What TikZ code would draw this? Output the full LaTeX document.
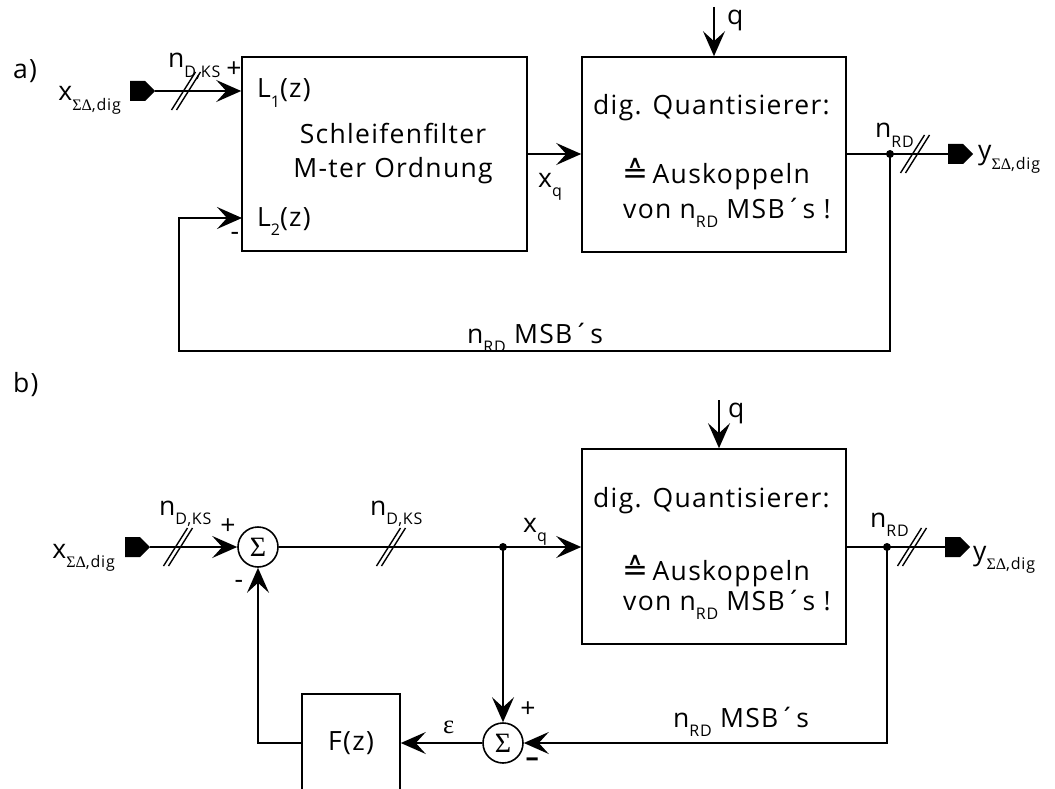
\documentclass[tikz,border=0pt]{standalone}
\usepackage{fontspec}
\setmainfont{Open Sans}[LetterSpace=5]
\newfontfamily\dvs{DejaVu Sans}
\newfontfamily\grk{Liberation Serif}
\usetikzlibrary{arrows.meta,shapes.symbols}
\newcommand\lo[1]{\raisebox{-0.36em}{\fontsize{16}{16}\selectfont #1}}
\newcommand\sd{{\grk ΣΔ}}
\newcommand\corr{{\fontsize{31}{31}\selectfont\dvs ≙}}
\tikzset{
  ln/.style={line width=1.6pt},
  blk/.style={draw, line width=1.6pt, rectangle, inner sep=0pt},
  sumn/.style={draw, circle, line width=1.6pt, minimum size=40pt, inner sep=0pt, font=\fontsize{28}{28}\selectfont\grk},
  lbl/.style={inner sep=0pt, font=\fontsize{26.5}{30}\selectfont},
  port/.style={shape=signal, signal to=east, fill=black, draw=none, minimum width=25pt, minimum height=20pt, inner sep=0pt},
  jdot/.style={circle, fill=black, minimum size=8pt, inner sep=0pt},
  arr/.style={line width=1.6pt, -{Stealth[length=25pt,width=22pt,inset=10pt]}},
  bus/.pic={\draw[line width=1.4pt] (-14.5,19) -- (9.5,-19) (-9.5,19) -- (14.5,-19);}
}
\begin{document}
\begin{tikzpicture}[x=1pt,y=-1pt]
\useasboundingbox (0,0) rectangle (1055,789);
% ---------------- a) ----------------
\node[lbl, anchor=base west] (la) at (13,79) {a)};
\node[port] (pinA) at (137.5,91) {};
\node[lbl, anchor=base east] (xinA) at (121,101) {x\lo{\sd,dig}};
\node[lbl, anchor=base west] (nA) at (168,68) {n\lo{D,KS}};
\node[lbl] (plA) at (234,70) {+};
\node[blk, minimum width=285pt, minimum height=194pt] (Lbox) at (384.5,154) {};
\node[lbl, anchor=base west] (L1) at (257,98) {L\lo{1}(z)};
\node[lbl, anchor=base west] (L2) at (257,226) {L\lo{2}(z)};
\node[lbl, anchor=base] (sf) at (393,143) {Schleifenfilter};
\node[lbl, anchor=base] (mo) at (393,178) {M-ter Ordnung};
\node[lbl, anchor=base west] (xqA) at (538,187) {x\lo{q}};
\node[blk, minimum width=264pt, minimum height=195pt] (Qa) at (714,154.5) {};
\coordinate (qa) at (714,7);
\node[lbl, anchor=base west] (qlA) at (727,25) {q};
\node[lbl, anchor=base west] (dqA) at (593,115) {dig. Quantisierer:};
\node[lbl, anchor=base west] (akA) at (622,183) {\corr\,Auskoppeln};
\node[lbl, anchor=base west] (vnA) at (623,218) {von n\lo{RD} MSB´s !};
\node[jdot] (dA) at (890,154) {};
\node[lbl, anchor=base west] (nrA) at (875,138) {n\lo{RD}};
\node[port] (poA) at (955.5,154) {};
\node[lbl, anchor=base west] (yA) at (978,160) {y\lo{\sd,dig}};
\coordinate (fa1) at (890,351);
\coordinate (fa2) at (179,351);
\coordinate (L2in) at (242,218);
\node[lbl, anchor=base west] (fbA) at (467,343) {n\lo{RD} MSB´s};
\node[lbl] (miA) at (235,236) {-};
\draw[arr] (pinA.east) -- (pinA.east -| Lbox.west);
\pic at (186,91) {bus};
\draw[arr] (Lbox.east) -- (Lbox.east -| Qa.west);
\draw[arr] (qa) -- (qa |- Qa.north);
\draw[ln] (Qa.east |- dA) -- (poA.west);
\pic at (915,154) {bus};
\draw[arr] (dA.center) -- (fa1) -- (fa2) |- (L2in);
% ---------------- b) ----------------
\node[lbl, anchor=base west] (lb) at (13,392) {b)};
\node[port] (pinB) at (132.5,547) {};
\node[lbl, anchor=base east] (xinB) at (115,558) {x\lo{\sd,dig}};
\node[lbl, anchor=base west] (nB1) at (159,515) {n\lo{D,KS}};
\node[lbl] (plB1) at (228,527) {+};
\node[sumn] (S1) at (258,547) {Σ};
\node[lbl] (miB1) at (239,584) {-};
\node[lbl, anchor=base west] (nB2) at (370,515) {n\lo{D,KS}};
\node[jdot] (dB1) at (503,547) {};
\node[lbl, anchor=base west] (xqB) at (523,532) {x\lo{q}};
\node[blk, minimum width=264pt, minimum height=195pt] (Qb) at (714,546.5) {};
\coordinate (qb) at (719,400);
\node[lbl, anchor=base west] (qlB) at (728,417) {q};
\node[lbl, anchor=base west] (dqB) at (593,507) {dig. Quantisierer:};
\node[lbl, anchor=base west] (akB) at (622,580) {\corr\,Auskoppeln};
\node[lbl, anchor=base west] (vnB) at (623,610) {von n\lo{RD} MSB´s !};
\node[jdot] (dB2) at (887,547) {};
\node[lbl, anchor=base west] (nrB) at (870,527) {n\lo{RD}};
\node[port] (poB) at (952.5,547) {};
\node[lbl, anchor=base west] (yB) at (973,560) {y\lo{\sd,dig}};
\node[sumn] (S2) at (503,743) {Σ};
\node[lbl] (plB2) at (528,710) {+};
\node[lbl] (miB2) at (533,762) {\textbf{–}};
\node[lbl, anchor=base west] (fbB) at (673,727) {n\lo{RD} MSB´s};
\node[blk, minimum width=98pt, minimum height=98pt, lbl, draw] (F) at (351,743) {F(z)};
\node[lbl, anchor=base west] (eps) at (443,733) {{\grk ε}};
\draw[arr] (pinB.east) -- (S1.west);
\pic at (178,547) {bus};
\draw[arr] (S1.east) -- (S1.east -| Qb.west);
\pic at (391,547) {bus};
\draw[arr] (dB1.center) -- (S2.north);
\draw[arr] (qb) -- (qb |- Qb.north);
\draw[ln] (Qb.east |- dB2) -- (poB.west);
\pic at (912,547) {bus};
\draw[arr] (dB2.center) |- (S2.east);
\draw[arr] (S2.west) -- (F.east);
\draw[arr] (F.west) -| (S1.south);
\end{tikzpicture}
\end{document}
